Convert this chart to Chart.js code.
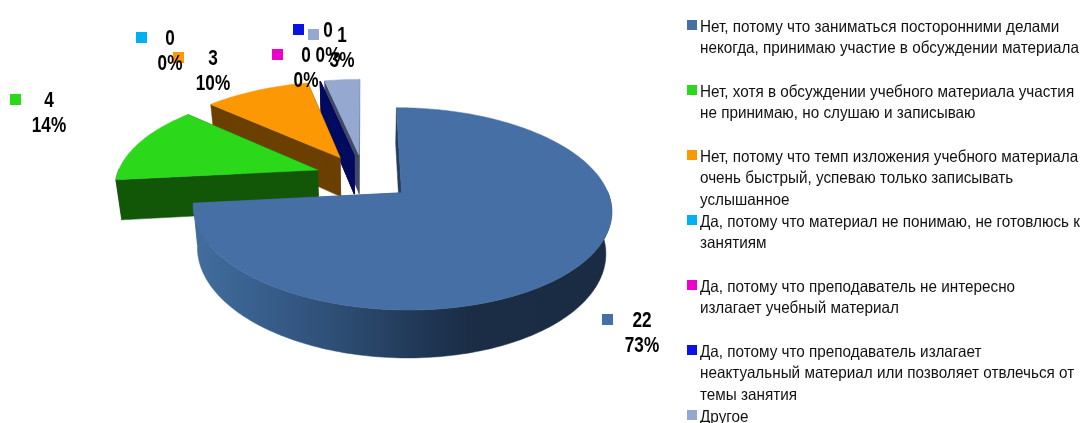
<!DOCTYPE html>
<html lang="ru">
<head>
<meta charset="utf-8">
<title>Pie</title>
<script src="https://cdn.jsdelivr.net/npm/chart.js@4"></script>
<style>
  html, body { margin: 0; padding: 0; background: #fff; overflow: hidden; }
  #box { position: relative; width: 1083px; height: 423px; }
</style>
</head>
<body>
<div id="box"><canvas id="pieChart"></canvas></div>
<script>
    const categories = [
      ['Нет, потому что заниматься посторонними делами', 'некогда, принимаю участие в обсуждении материала'],
      ['Нет, хотя в обсуждении учебного материала участия', 'не принимаю, но слушаю и записываю'],
      ['Нет, потому что темп изложения учебного материала', 'очень быстрый, успеваю только записывать', 'услышанное'],
      ['Да, потому что материал не понимаю, не готовлюсь к', 'занятиям'],
      ['Да, потому что преподаватель не интересно', 'излагает учебный материал'],
      ['Да, потому что преподаватель излагает', 'неактуальный материал или позволяет отвлечься от', 'темы занятия'],
      ['Другое']
    ];
    const values = [22, 4, 3, 0, 0, 0, 1];
    const percentLabels = ['73%', '14%', '10%', '0%', '0%', '0%', '3%'];

    const topColors = ['#4670A5', '#2BD91A', '#FC9804', '#00B0F0', '#EE00CC', '#0A12E6', '#95A9D0'];
    const wallColors = ['#1B2C45', '#125708', '#6B3F00', '#00587A', '#770066', '#000A5E', '#3F4A66'];

    // Where each value label sits: x of the key box, y of its top, x of the text centre
    const labelSpots = [
      [602, 314, 642], [10, 94, 49], [173, 52, 213], [136, 32, 170],
      [272, 49, 306], [293, 24, 328], [308, 29, 342]
    ];

    // back to front
    const drawOrder = [6, 3, 4, 5, 2, 1, 0];

    // Flattens the library's circle into the tilted view
    const view = { explode: 0.245, stretchX: 1.137, stretchY: 0.529, perspective: 0.155, floorX: 0.976, floorY: 1.06, depth: 40 };

    function project(el, u, v) {
      const w = 1 - view.perspective * v;
      const R = el.outerRadius;
      return {
        x: el.x + R * view.stretchX * u / w,
        y: el.y + R * view.stretchY * v / w
      };
    }

    function floorOf(el, p) {
      return {
        x: el.x + (p.x - el.x) * view.floorX,
        y: el.y + (p.y - el.y) * view.floorY + view.depth
      };
    }

    function fillPoly(ctx, pts, color) {
      ctx.fillStyle = color;
      ctx.strokeStyle = color;
      ctx.lineWidth = 0.5;
      ctx.beginPath();
      pts.forEach((p, i) => { if (i === 0) ctx.moveTo(p.x, p.y); else ctx.lineTo(p.x, p.y); });
      ctx.closePath();
      ctx.fill();
      ctx.stroke();
    }

    function wallFill(ctx, index) {
      if (index !== 0) return wallColors[index];
      const g = ctx.createLinearGradient(200, 0, 613, 0);
      g.addColorStop(0, '#416C9C');
      g.addColorStop(0.2, '#355A86');
      g.addColorStop(0.36, '#2C4B70');
      g.addColorStop(0.56, '#1F3552');
      g.addColorStop(0.66, '#1B2C45');
      g.addColorStop(1, '#1A2B44');
      return g;
    }

    function drawSlice(ctx, el, index) {
      const mid = (el.startAngle + el.endAngle) / 2;
      const u0 = Math.cos(mid) * view.explode;
      const v0 = Math.sin(mid) * view.explode;
      const apex = project(el, u0, v0);

      const steps = Math.max(1, Math.ceil((el.endAngle - el.startAngle) / 0.02));
      const rim = [];
      for (let i = 0; i <= steps; i++) {
        const a = el.startAngle + (el.endAngle - el.startAngle) * i / steps;
        rim.push({ a: a, p: project(el, u0 + Math.cos(a), v0 + Math.sin(a)) });
      }

      const fill = wallFill(ctx, index);
      const first = rim[0].p;
      const last = rim[rim.length - 1].p;
      fillPoly(ctx, [apex, first, floorOf(el, first), floorOf(el, apex)], fill);
      fillPoly(ctx, [apex, last, floorOf(el, last), floorOf(el, apex)], fill);

      // outer wall, only the part that faces us
      const near = rim.filter(r => Math.sin(r.a) > -0.02);
      if (near.length > 1) {
        const lower = near.map(r => floorOf(el, r.p)).reverse();
        fillPoly(ctx, near.map(r => r.p).concat(lower), fill);
      }

      if (steps > 1) fillPoly(ctx, [apex].concat(rim.map(r => r.p)), topColors[index]);
    }

    function squeezedText(ctx, text, x, y, scaleX) {
      ctx.save();
      ctx.translate(x, y);
      ctx.scale(scaleX, 1);
      ctx.fillText(text, 0, 0);
      ctx.restore();
    }

    const pie3d = {
      id: 'pie3d',
      beforeDatasetsDraw(chart) {
        const ctx = chart.ctx;
        const arcs = chart.getDatasetMeta(0).data;
        ctx.save();
        drawOrder.forEach(i => drawSlice(ctx, arcs[i], i));
        ctx.restore();
        return false;
      },
      afterDraw(chart) {
        const ctx = chart.ctx;
        ctx.save();
        ctx.textBaseline = 'middle';

        // value labels with their key boxes
        ctx.font = 'bold 22px "Liberation Sans"';
        ctx.textAlign = 'center';
        values.forEach((value, i) => {
          const [boxX, boxY, textX] = labelSpots[i];
          ctx.fillStyle = topColors[i];
          ctx.fillRect(boxX, boxY, 11, 11);
          ctx.fillStyle = '#000';
          squeezedText(ctx, String(value), textX, boxY + 7, 0.78);
          squeezedText(ctx, percentLabels[i], textX, boxY + 32, 0.78);
        });

        // legend on the right
        ctx.font = '16.5px "Liberation Sans"';
        ctx.textAlign = 'left';
        categories.forEach((lines, i) => {
          const top = 20 + i * 65;
          ctx.fillStyle = topColors[i];
          ctx.fillRect(687, top, 10, 10);
          ctx.fillStyle = '#111';
          lines.forEach((line, n) => squeezedText(ctx, line, 700, top + 7 + n * 21.7, 0.925));
        });
        ctx.restore();
      }
    };

    const pieChart = new Chart(document.getElementById('pieChart').getContext('2d'), {
      type: 'pie',
      data: {
        labels: categories.map(lines => lines.join(' ')),
        datasets: [{ data: values, backgroundColor: topColors, borderWidth: 0 }]
      },
      options: {
        responsive: true,
        maintainAspectRatio: false,
        animation: false,
        layout: { padding: { right: 355, bottom: 69 } },
        plugins: { legend: { display: false }, tooltip: { enabled: false } }
      },
      plugins: [pie3d]
    });
</script>
</body>
</html>
